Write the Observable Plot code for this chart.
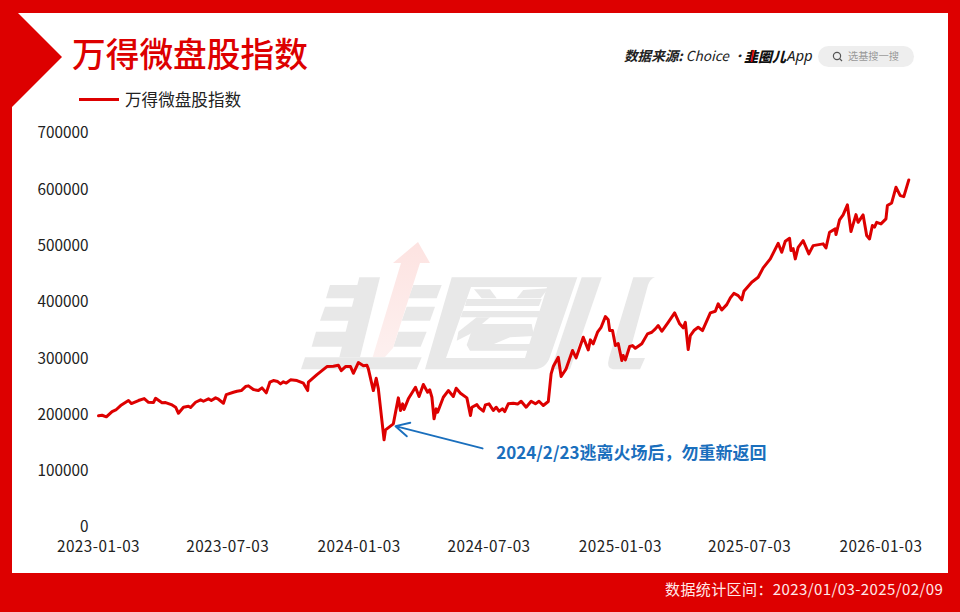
<!DOCTYPE html>
<html lang="zh">
<head>
<meta charset="utf-8">
<script src="https://cdn.jsdelivr.net/npm/d3@7"></script>
<script src="https://cdn.jsdelivr.net/npm/@observablehq/plot@0.6"></script>
<style>
html,body{margin:0;padding:0;background:#fff;}
body{width:960px;height:612px;overflow:hidden;position:relative;font-family:"Noto Sans CJK SC","Noto Sans",sans-serif;}
#deco,#top{position:absolute;left:0;top:0;}
#chart{position:absolute;left:0;top:0;}
.t{position:absolute;white-space:nowrap;line-height:1;}
#title{left:72px;top:36px;font-size:33.7px;font-weight:500;color:#dd0000;}
#legline{position:absolute;left:79px;top:98px;width:40px;height:3px;background:#dd0000;}
#legtext{left:125px;top:91px;font-size:16.6px;color:#222;}
#src{left:624px;top:49px;font-size:13.6px;font-style:italic;color:#222;}
#src b{font-weight:700;}
#logo{left:744px;top:49px;font-size:14px;font-style:italic;font-weight:900;color:#111;}
#app{left:787px;top:48px;font-size:15px;font-style:italic;color:#222;font-family:"Noto Sans",sans-serif;}
#pill{position:absolute;left:818px;top:46px;width:96px;height:21px;border-radius:11px;background:#eeeeee;}
#pilltext{left:848px;top:51px;font-size:10.2px;color:#999;}
#foot{left:665px;top:581px;font-size:15px;letter-spacing:.4px;color:#ffe9e9;}
[aria-label="x-axis tick label"] text{letter-spacing:.45px;}
</style>
</head>
<body>
<svg id="deco" width="960" height="612">
  <defs>
    <linearGradient id="fade" x1="0" y1="0" x2="0" y2="1">
      <stop offset="0" stop-color="#fde3e1"/><stop offset="1" stop-color="#fdf0ef"/>
    </linearGradient>
  </defs>
  <rect x="0" y="0" width="960" height="612" fill="#dd0000"/>
  <rect x="12" y="13" width="936" height="560" fill="#fff"/>
  <polygon points="0,0 18,13 62,57 12,107 0,107" fill="#dd0000"/>
  <g fill="#e8e8e8">
    <g transform="translate(300 270) scale(0.33333)">
      <polygon points="178,22 240,22 180,262 118,262"/>
      <polygon points="90,45 180,45 170,85 78,85"/>
      <polygon points="75,110 160,110 150,152 60,152"/>
      <polygon points="48,185 140,185 130,230 35,230"/>
      <polygon points="15,262 365,262 350,298 3,298"/>
      <polygon points="340,45 425,45 410,85 325,85"/>
      <polygon points="320,110 405,110 390,152 305,152"/>
      <polygon points="295,185 380,185 362,230 280,230"/>
    </g>
    <path fill-rule="evenodd" d="M451.7 277.3 L577.3 277.3 L550 356.7 Q546 369.3 533 369.3 L425 369.3 Z M471 287 L547 287 L525 358 L446 358 Z"/>
    <g transform="translate(290 230) scale(0.33333)">
      <polygon points="552,178 600,178 620,205 575,205"/>
      <polygon points="700,180 775,175 752,205 680,205"/>
      <polygon points="530,207 755,207 747,228 525,228"/>
      <polygon points="518,243 750,243 745,262 512,262"/>
      <polygon points="560,262 600,262 540,312 500,332 505,305"/>
      <polygon points="552,282 725,282 732,318 660,322 612,342 722,342 716,362 540,362 530,345"/>
    </g>
    <polygon points="581.7,277.3 601.7,277.3 570,369.3 551,369.3"/>
    <path d="M633.3 277.3 L655 277.3 Q650 279 648 285 L628 358 L645 358 L640 369.3 L613 369.3 Q606 369 609 358 Z"/>
  </g>
  <polygon points="418,242 393,263 401,263 372.7,357 385,357 393,348 420,263 430,263" fill="url(#fade)"/>
</svg>
<div id="chart"></div>
<div class="t" id="title">万得微盘股指数</div>
<div id="legline"></div>
<div class="t" id="legtext">万得微盘股指数</div>
<div class="t" id="src"><b>数据来源:</b> Choice ·</div>
<div class="t" id="logo">韭圈儿</div>
<div class="t" id="app">App</div>
<div id="pill"></div>
<svg id="top" width="960" height="612" style="pointer-events:none">
  <line x1="753.5" y1="50" x2="751.5" y2="62" stroke="#e60000" stroke-width="1.6"/>
  <g fill="none" stroke="#555" stroke-width="1.2"><circle cx="837" cy="56" r="3.6"/><line x1="839.6" y1="58.6" x2="842" y2="61"/></g>
</svg>
<div class="t" id="pilltext">选基搜一搜</div>
<div class="t" id="foot">数据统计区间：2023/01/03-2025/02/09</div>
<script>
const startDate = new Date(Date.UTC(2023, 0, 3));
const xTickDates = ["2023-01-03","2023-07-03","2024-01-03","2024-07-03","2025-01-03","2025-07-03","2026-01-03"];
const yTicks = [0,100000,200000,300000,400000,500000,600000,700000];
const dayOffsets = [0,5,11,19,25,31,42,46,56,64,70,77,80,89,94,102,108,112,119,126,129,136,143,147,154,158,164,168,175,179,189,194,200,206,210,217,224,229,235,240,245,251,255,259,263,269,278,287,293,294,306,320,329,336,340,346,353,357,364,371,376,378,385,389,392,400,402,413,417,420,423,426,428,434,444,449,455,461,464,467,470,473,475,483,490,497,501,507,516,521,523,530,533,539,542,547,553,557,561,566,569,574,581,587,592,599,606,612,617,623,630,634,637,644,648,655,664,669,679,686,689,693,699,704,710,714,716,720,724,728,733,735,738,744,748,752,761,769,775,780,784,789,798,807,814,819,822,826,829,834,840,846,857,864,868,873,880,885,890,896,901,904,915,924,931,941,952,957,962,968,970,973,976,980,987,995,1001,1015,1019,1024,1032,1033,1038,1043,1049,1054,1061,1064,1071,1076,1080,1084,1087,1090,1096,1103,1105,1111,1117,1123,1128,1135];
const indexValues = [198400,199400,196600,206000,209600,216700,225600,220200,225600,229100,222500,222000,229600,221500,222000,218400,213700,203000,213700,215400,213100,222500,226800,224300,228600,225600,230300,227900,220800,236200,240300,242100,243300,250400,251700,245100,243300,248100,239200,258100,261100,259300,255200,258800,256600,262300,261100,256300,243300,258100,271700,285900,286500,288200,278800,285900,285900,274000,293000,287200,288200,281900,243300,265200,246300,155800,173500,184200,210800,230300,207800,219700,209600,228600,249200,232700,254000,240300,244600,231400,193100,210800,204800,231400,243300,232700,247400,238500,230300,198900,213700,218400,213100,206600,217900,219700,207800,213700,206600,210800,206000,219700,220800,219300,224300,213700,224300,219700,224300,216700,223800,273000,285900,302500,268200,281900,314400,301400,338000,315600,333400,326300,346900,355700,374700,368900,349900,349900,323200,326800,296600,305500,297800,321500,323200,318400,326300,344000,346900,352900,358800,348600,364600,381300,361800,354700,364600,316100,341000,349900,355700,349900,381300,384200,397300,386600,396000,407900,416100,412000,404400,419700,435700,444500,461200,477200,504900,488900,508500,513800,492000,495500,477200,497800,509700,486100,500800,503900,496700,524500,530500,520400,546500,555400,573100,525700,555900,542200,555400,518600,512700,536400,533700,542200,539400,548300,571900,576700,604400,589600,587900,617500];
const seriesData = dayOffsets.map((d,i)=>({date:d3.utcDay.offset(startDate,d),value:indexValues[i]}));

const noteDate = new Date(Date.UTC(2024,1,23));
const noteText = "2024/2/23逃离火场后，勿重新返回";
const noteAnchor = {x1:new Date(Date.UTC(2024,5,24)),y1:140500,x2:noteDate,y2:180000};
const noteLabel = {x:new Date(Date.UTC(2024,6,13)),y:131500};

const plot = Plot.plot({
  width:960,height:612,
  marginLeft:98,marginRight:51.7,marginTop:133,marginBottom:85,
  style:{background:"transparent",fontFamily:'"Noto Sans CJK SC","Noto Sans",sans-serif',fontSize:"15.3px",color:"#222",overflow:"visible"},
  x:{type:"utc",domain:[startDate,d3.utcDay.offset(startDate,1135)]},
  y:{domain:[0,700000]},
  marks:[
    Plot.axisX({ticks:xTickDates.map(s=>new Date(s+"T00:00:00Z")),tickFormat:d3.utcFormat("%Y-%m-%d"),tickSize:0,tickPadding:14,label:null,fontSize:15.3}),
    Plot.axisY({ticks:yTicks,tickFormat:d=>String(d),tickSize:0,tickPadding:10,label:null,fontSize:15.3}),
    Plot.line(seriesData,{x:"date",y:"value",stroke:"#dd0000",strokeWidth:3,strokeLinejoin:"round",curve:"linear"}),
    Plot.arrow([noteAnchor],{x1:"x1",y1:"y1",x2:"x2",y2:"y2",stroke:"#1a6fbd",strokeWidth:1.9,bend:0,headLength:12,headAngle:55}),
    Plot.text([noteLabel],{x:"x",y:"y",text:()=>noteText,textAnchor:"start",fill:"#1a6fbd",fontSize:17,fontWeight:700})
  ]
});
document.getElementById("chart").appendChild(plot);
</script>
</body>
</html>
